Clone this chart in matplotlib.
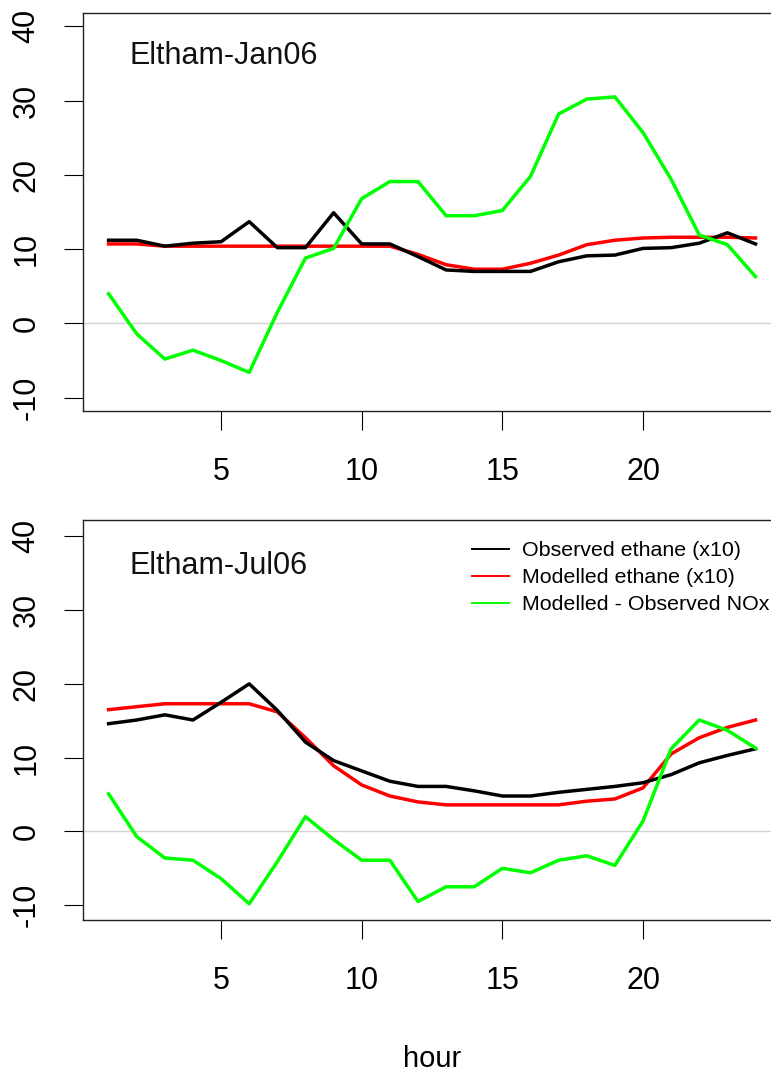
import matplotlib
matplotlib.use("Agg")
import matplotlib.pyplot as plt
from matplotlib.lines import Line2D

plt.rcParams["font.family"] = ["Liberation Sans", "DejaVu Sans"]

hours = list(range(1, 25))

jan_obs = [11.2, 11.2, 10.4, 10.8, 11.0, 13.7, 10.2, 10.2, 14.9, 10.7, 10.7, 9.0,
           7.2, 7.0, 7.0, 7.0, 8.3, 9.1, 9.2, 10.1, 10.2, 10.8, 12.2, 10.7]
jan_mod = [10.7, 10.7, 10.4, 10.4, 10.4, 10.4, 10.4, 10.4, 10.4, 10.4, 10.4, 9.3,
           7.9, 7.3, 7.3, 8.1, 9.2, 10.6, 11.2, 11.5, 11.6, 11.6, 11.6, 11.5]
jan_nox = [4.0, -1.4, -4.8, -3.6, -5.0, -6.6, 1.5, 8.8, 10.1, 16.8, 19.1, 19.1,
           14.5, 14.5, 15.2, 19.8, 28.2, 30.2, 30.5, 25.7, 19.4, 11.9, 10.6, 6.3]

jul_obs = [14.6, 15.1, 15.8, 15.1, 17.5, 20.0, 16.4, 12.1, 9.6, 8.2, 6.8, 6.1,
           6.1, 5.5, 4.8, 4.8, 5.3, 5.7, 6.1, 6.6, 7.7, 9.3, 10.3, 11.2]
jul_mod = [16.5, 16.9, 17.3, 17.3, 17.3, 17.3, 16.2, 12.7, 8.9, 6.3, 4.8, 4.0,
           3.6, 3.6, 3.6, 3.6, 3.6, 4.1, 4.4, 5.9, 10.5, 12.7, 14.1, 15.1]
jul_nox = [5.1, -0.7, -3.6, -3.9, -6.4, -9.8, -4.1, 2.0, -1.1, -3.9, -3.9, -9.5,
           -7.5, -7.5, -5.0, -5.6, -3.9, -3.3, -4.6, 1.4, 11.2, 15.1, 13.7, 11.3]

site_labels = ["Eltham-Jan06", "Eltham-Jul06"]
legend_labels = ["Observed ethane (x10)", "Modelled ethane (x10)",
                 "Modelled - Observed NOx"]
x_ticks = [5, 10, 15, 20]
y_ticks = [-10, 0, 10, 20, 30, 40]

W, H = 771, 1075
fig = plt.figure(figsize=(W / 100, H / 100), dpi=100)


def px_axes(left, top, right, bottom):
    return fig.add_axes([left / W, 1 - bottom / H, (right - left) / W, (bottom - top) / H])


def setup_panel(ax, obs, mod, nox, label, ylim):
    ax.axhline(0, color="#d3d3d3", lw=1.0, zorder=1)
    ax.plot(hours, mod, color="red", lw=2.5, zorder=2)
    ax.plot(hours, obs, color="black", lw=2.5, zorder=3)
    ax.plot(hours, nox, color="#00ff00", lw=2.5, zorder=4)
    ax.set_xlim(0.08, 24.92)
    ax.set_ylim(*ylim)
    ax.set_xticks(x_ticks)
    ax.set_yticks(y_ticks)
    ax.set_yticklabels([str(v) for v in y_ticks], rotation=90, va="center")
    ax.tick_params(axis="both", direction="out", length=13.5, width=0.8,
                   labelsize=22, colors="black")
    ax.tick_params(axis="x", pad=19.5)
    ax.tick_params(axis="y", pad=16)
    for sp in ax.spines.values():
        sp.set_linewidth(1.0)
        sp.set_color("#222222")
    ax.text(1.73, 34.9, label, fontsize=22, ha="left", va="baseline", color="#111111")


ax1 = px_axes(82.7, 13.3, 781.4, 410.7)
setup_panel(ax1, jan_obs, jan_mod, jan_nox, site_labels[0], (-11.75, 41.75))

ax2 = px_axes(82.7, 520, 781.4, 920)
setup_panel(ax2, jul_obs, jul_mod, jul_nox, site_labels[1], (-12.0, 42.2))

handles = [Line2D([], [], color=c, lw=1.4) for c in ["black", "red", "#00ff00"]]
ax2.legend(handles, legend_labels, loc="upper left", bbox_to_anchor=(0.5577, 0.9475),
           frameon=False, fontsize=15.4, handlelength=1.7, handletextpad=0.62,
           labelspacing=0.38, borderpad=0, borderaxespad=0)

ax2.set_xlabel("hour", fontsize=21, va="baseline")
ax2.xaxis.set_label_coords(0.5, -0.3675)

fig.savefig("out.png", dpi=100)
